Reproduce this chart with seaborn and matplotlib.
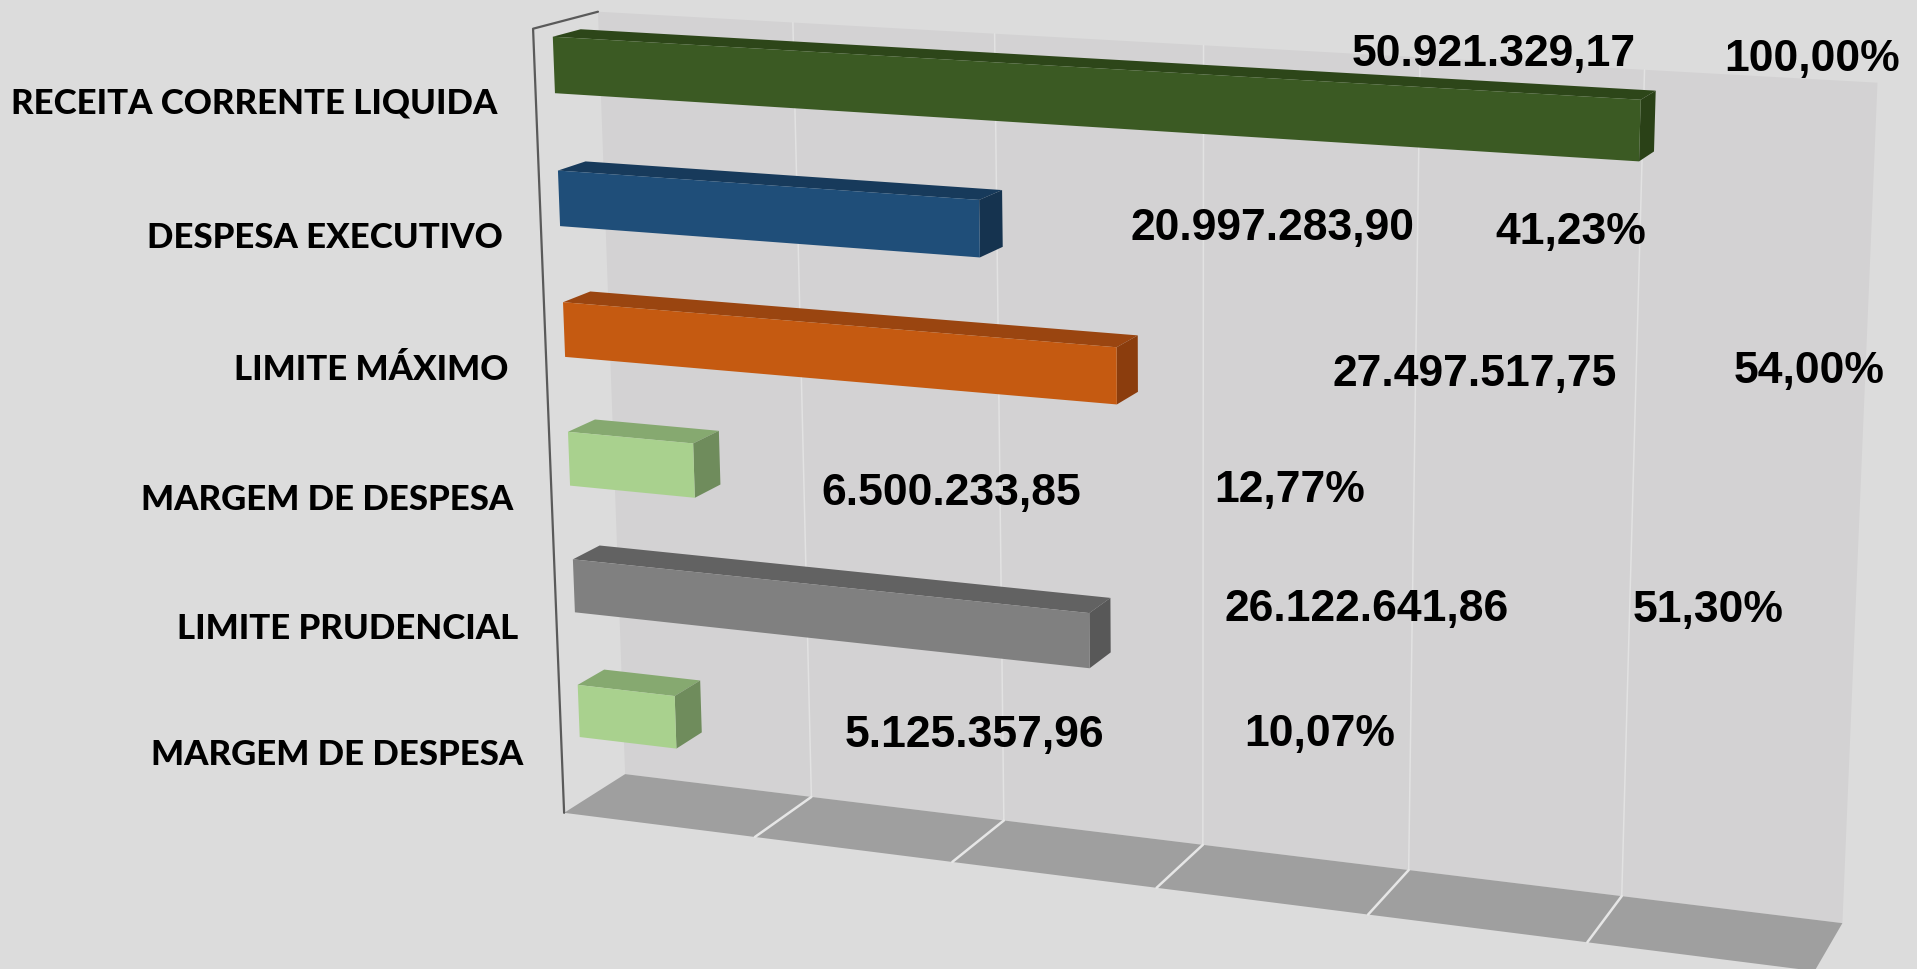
import numpy as np
import pandas as pd
import matplotlib
matplotlib.use("Agg")
import matplotlib.pyplot as plt
import matplotlib.transforms as mtransforms
from matplotlib.patches import Polygon
import seaborn as sns

# dados do grafico
categorias = ["RECEITA CORRENTE LIQUIDA", "DESPESA EXECUTIVO", "LIMITE MÁXIMO",
              "MARGEM DE DESPESA", "LIMITE PRUDENCIAL", "MARGEM DE DESPESA"]
valores = [50921329.17, 20997283.90, 27497517.75, 6500233.85, 26122641.86, 5125357.96]
percentuais = [100.00, 41.23, 54.00, 12.77, 51.30, 10.07]

cores_frente = ["#3b5a23", "#1f4e79", "#c55a11", "#a9d18e", "#808080", "#a9d18e"]
cores_topo = ["#2d4619", "#173a5b", "#9a4510", "#86a970", "#626262", "#86a970"]
cores_lado = ["#2a4117", "#15334f", "#8b3d0d", "#6f8c5c", "#585858", "#6f8c5c"]

escala_max = 60_000_000
n_div = 6

# centro (px) dos rotulos de valor e percentual, como no original
rotulo_valor_px = [(1494, 50), (1273, 224), (1475, 370), (951, 489), (1367, 605), (974, 731)]
rotulo_pct_px = [(1812, 55), (1571, 228), (1809, 367), (1290, 486), (1708, 606), (1320, 730)]

W, H = 1917, 969

# calibracao da perspectiva: cantos da caixa 3D (X valor, Y altura, Z profundidade)
caixa_3d = np.array([
    (0, 0, 0), (0, 1, 0), (0, 0, 1), (0, 1, 1),
    (1 / 6, 0, 0), (1 / 6, 0, 1), (2 / 6, 0, 0), (2 / 6, 0, 1),
    (3 / 6, 0, 0), (3 / 6, 0, 1), (4 / 6, 0, 0), (4 / 6, 0, 1),
    (5 / 6, 0, 0), (5 / 6, 0, 1), (1, 0, 0), (1, 0, 1),
    (1, 1, 1), (5 / 6, 1, 1),
], dtype=float)
caixa_px = np.array([
    (565, 813), (532, 29), (625, 773), (599, 11),
    (755, 837), (812, 797), (953, 863), (1003, 821),
    (1155, 888), (1201, 844), (1368, 915), (1409, 871),
    (1588, 942), (1623, 897), (1815, 969), (1842, 923),
    (1877, 83), (1645, 70),
], dtype=float)


def ajusta_camera(pts3, pts2):
    s = 1000.0
    A = []
    for (X, Y, Z), (u, v) in zip(pts3, pts2 / s):
        A.append([X, Y, Z, 1, 0, 0, 0, 0, -u * X, -u * Y, -u * Z, -u])
        A.append([0, 0, 0, 0, X, Y, Z, 1, -v * X, -v * Y, -v * Z, -v])
    P = np.linalg.svd(np.array(A))[2][-1].reshape(3, 4)
    return np.diag([s, s, 1.0]) @ P


P = ajusta_camera(caixa_3d, caixa_px)


def projeta(X, Y, Z):
    X, Y, Z = np.broadcast_arrays(np.asarray(X, float), np.asarray(Y, float), np.asarray(Z, float))
    q = P @ np.vstack([X.ravel(), Y.ravel(), Z.ravel(), np.ones(X.size)])
    return q[0] / q[2], q[1] / q[2]


def tela(X, Y, Z):
    u, v = projeta(X, Y, Z)
    return np.column_stack([u, H - v])


Z_FRENTE, Z_FUNDO = 0.29, 0.72

# posicao vertical das categorias (centro da 1a e da ultima barra na frente)
ys = np.linspace(-0.5, 1.5, 4001)
_, vs = projeta(0, ys, Z_FRENTE)
Y0 = np.interp(65, vs[::-1], ys[::-1])
Y5 = np.interp(711, vs[::-1], ys[::-1])
dY = (Y0 - Y5) / 5


def dado_para_tela(x, c, z):
    return tela(np.asarray(x) / escala_max, Y0 - np.asarray(c) * dY, z)


class Perspectiva(mtransforms.Transform):
    input_dims = 2
    output_dims = 2
    is_separable = False
    has_inverse = False

    def __init__(self, z):
        super().__init__()
        self.z = z

    def transform_non_affine(self, values):
        values = np.asarray(values, dtype=float).reshape(-1, 2)
        return dado_para_tela(values[:, 0], values[:, 1], self.z)


def fmt_br(v):
    return f"{v:,.2f}".replace(",", "X").replace(".", ",").replace("X", ".")


sns.set_style("white")
plt.rcParams["font.family"] = ["Liberation Sans", "DejaVu Sans"]

df = pd.DataFrame({"id": [str(i) for i in range(len(valores))], "valor": valores})

fig = plt.figure(figsize=(W / 100, H / 100), dpi=100, facecolor="#dcdcdc")
ax = fig.add_axes([0, 0, 1, 1])
ax.set_axis_off()

sns.barplot(data=df, x="valor", y="id", hue="id", palette=cores_frente, orient="h",
            width=0.42, saturation=1, legend=False, ax=ax)

barras = list(ax.patches)
ident = mtransforms.IdentityTransform()

# parede do fundo e piso
parede = tela([0, 1, 1, 0], [0, 0, 1, 1], 1)
ax.add_patch(Polygon(parede, closed=True, transform=ident, facecolor="#d3d2d3",
                     edgecolor="none", zorder=1, clip_on=False))
piso = tela([0, 1, 1, 0], 0, [0, 0, 1, 1])
ax.add_patch(Polygon(piso, closed=True, transform=ident, facecolor="#9f9f9f",
                     edgecolor="none", zorder=1, clip_on=False))

for k in range(1, n_div):
    X = k / n_div
    g = tela([X, X], [0, 1], 1)
    ax.plot(g[:, 0], g[:, 1], transform=ident, color="#e2e2e2", lw=1.1, zorder=2, clip_on=False)
    f = tela([X, X], 0, [0, 1])
    ax.plot(f[:, 0], f[:, 1], transform=ident, color="#e6e6e6", lw=1.8, zorder=2, clip_on=False)

# linha do eixo (aresta frontal esquerda + topo da lateral)
eixo = tela([0, 0, 0], [0, 1, 1], [0, 0, 1])
ax.plot(eixo[:, 0], eixo[:, 1], transform=ident, color="#5a5a5a", lw=1.6, zorder=3, clip_on=False)

# barras 3D: frente vem do seaborn, topo e lateral derivados dela
for p in barras:
    c = int(round(p.get_y() + p.get_height() / 2))
    x0, x1 = p.get_x(), p.get_x() + p.get_width()
    y0, y1 = p.get_y(), p.get_y() + p.get_height()
    topo = np.vstack([dado_para_tela([x0, x1], y0, Z_FRENTE),
                      dado_para_tela([x1, x0], y0, Z_FUNDO)])
    lado = np.vstack([dado_para_tela(x1, [y0, y1], Z_FRENTE),
                      dado_para_tela(x1, [y1, y0], Z_FUNDO)])
    ax.add_patch(Polygon(topo, closed=True, transform=ident, facecolor=cores_topo[c],
                         edgecolor="none", zorder=4, clip_on=False))
    ax.add_patch(Polygon(lado, closed=True, transform=ident, facecolor=cores_lado[c],
                         edgecolor="none", zorder=4, clip_on=False))
    p.set_transform(Perspectiva(Z_FRENTE))
    p.set_edgecolor("none")
    p.set_zorder(5)
    p.set_clip_on(False)

# rotulos das categorias
for c, nome in enumerate(categorias):
    u, v = projeta(0, Y0 - c * dY, 0)
    fig.text((u[0] - 37) / W, 1 - (v[0] + 43) / H, nome, ha="right", va="baseline",
             fontsize=25, fontweight="black", family=["Lato", "DejaVu Sans"], color="black")

# valores e percentuais
for c in range(len(valores)):
    xv, yv = rotulo_valor_px[c]
    fig.text(xv / W, 1 - (yv + 16) / H, fmt_br(valores[c]), ha="center", va="baseline",
             fontsize=32, fontweight="bold", color="black")
    xp, yp = rotulo_pct_px[c]
    fig.text(xp / W, 1 - (yp + 16) / H, f"{percentuais[c]:.2f}".replace(".", ",") + "%",
             ha="center", va="baseline", fontsize=32, fontweight="bold", color="black")

fig.savefig("out.png", dpi=100, facecolor=fig.get_facecolor())
